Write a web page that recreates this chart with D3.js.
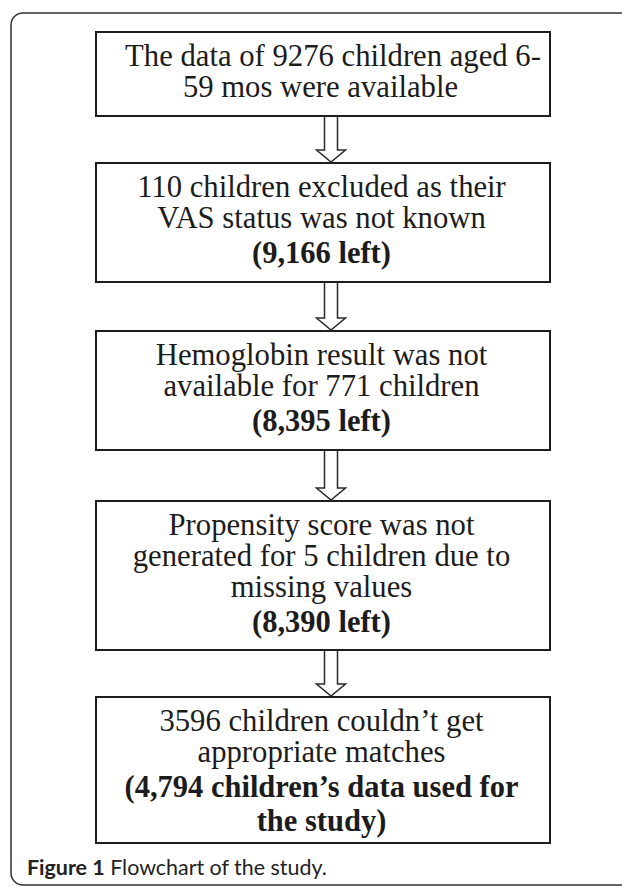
<!DOCTYPE html>
<html>
<head>
<meta charset="utf-8">
<script src="https://cdn.jsdelivr.net/npm/d3@7"></script>
<style>
  html, body { margin: 0; padding: 0; background: #fff; overflow: hidden; }
  svg { display: block; }
</style>
</head>
<body>
<div id="chart"></div>
<script>
// ---- data ----
const stepNames = ["available", "vasKnown", "hbAvailable", "scoreGenerated", "matched"];
const stepLines = [
  ["The data of 9276 children aged 6-", "59 mos were available"],
  ["110 children excluded as their", "VAS status was not known", "(9,166 left)"],
  ["Hemoglobin result was not", "available for 771 children", "(8,395 left)"],
  ["Propensity score was not", "generated for 5 children due to", "missing values", "(8,390 left)"],
  ["3596 children couldn\u2019t get", "appropriate matches", "(4,794 children\u2019s data used for", "the study)"]
];
const stepBoldFrom = [99, 2, 2, 3, 2];   // index of first bold line in each box
const captionBold = "Figure 1";
const captionText = " Flowchart of the study.";

// ---- layout ----
const W = 622, H = 887;
const boxTop = [32, 163, 331, 501, 697];
const boxBottom = [116, 282, 450, 650, 843];
const boxLeft = 96, boxRight = 550;
const textCx = 321.5;
const arrowCx = 331;

const svg = d3.select("#chart").append("svg")
  .attr("width", W).attr("height", H)
  .attr("viewBox", `0 0 ${W} ${H}`);

// outer frame (open to the right)
const fx = 11, fy = 13, fb = 885, r = 12;
const fp = d3.path();
fp.moveTo(W + 5, fy);
fp.lineTo(fx + r, fy);
fp.arcTo(fx, fy, fx, fy + r, r);
fp.lineTo(fx, fb - r);
fp.arcTo(fx, fb, fx + r, fb, r);
fp.lineTo(W + 5, fb);
svg.append("path").attr("d", fp.toString())
  .attr("fill", "none").attr("stroke", "#333").attr("stroke-width", 1.5);

const yScale = d3.scaleLinear().domain([0, H]).range([0, H]);

const g = svg.append("g");

const boxes = g.selectAll("g.step").data(stepNames).join("g").attr("class", "step");

boxes.append("rect")
  .attr("x", boxLeft)
  .attr("y", (d, i) => yScale(boxTop[i]))
  .attr("width", boxRight - boxLeft)
  .attr("height", (d, i) => yScale(boxBottom[i]) - yScale(boxTop[i]))
  .attr("fill", "#fff").attr("stroke", "#1e1e1e").attr("stroke-width", 2);

boxes.each(function (d, i) {
  const lines = stepLines[i];
  let y = boxTop[i] + 34;
  const sel = d3.select(this);
  lines.forEach((ln, j) => {
    const bold = j >= stepBoldFrom[i];
    if (j > 0) y += (bold ? 34.5 : 31);
    let cx = textCx;
    if (i === 0 && j === 0) cx = 333;
    if (i === 0 && j === 1) cx = 320.5;
    sel.append("text")
      .attr("x", cx).attr("y", yScale(y))
      .attr("text-anchor", "middle")
      .attr("font-family", "'Liberation Serif', 'Times New Roman', serif")
      .attr("font-size", bold ? 30.5 : 30.7)
      .attr("font-weight", bold ? "bold" : "normal")
      .attr("fill", "#1c1c1c")
      .text(ln);
  });
});

// hollow arrows between boxes
const arrowData = d3.range(stepNames.length - 1);
const shaftHalf = 6.5, headHalf = 14.5, headH = 12;
g.selectAll("path.arrow").data(arrowData).join("path")
  .attr("class", "arrow")
  .attr("d", i => {
    const y0 = yScale(boxBottom[i]) + 1, y1 = yScale(boxTop[i + 1]) - 1;
    const yh = y1 - headH;
    const p = d3.path();
    p.moveTo(arrowCx - shaftHalf, y0);
    p.lineTo(arrowCx - shaftHalf, yh);
    p.lineTo(arrowCx - headHalf, yh);
    p.lineTo(arrowCx, y1);
    p.lineTo(arrowCx + headHalf, yh);
    p.lineTo(arrowCx + shaftHalf, yh);
    p.lineTo(arrowCx + shaftHalf, y0);
    return p.toString();
  })
  .attr("fill", "#fff").attr("stroke", "#2a2a2a").attr("stroke-width", 1.5)
  .attr("stroke-linejoin", "miter");

// caption
const cap = svg.append("text")
  .attr("x", 27).attr("y", 875)
  .attr("font-family", "Lato, 'Open Sans', sans-serif")
  .attr("font-size", 19)
  .attr("fill", "#222");
cap.append("tspan").attr("font-weight", "bold").text(captionBold);
cap.append("tspan").text(captionText);
// fit caption to the reference width (~300px)
const capW = cap.node().getComputedTextLength();
if (capW > 0) cap.attr("font-size", 19 * 300 / capW);
</script>
</body>
</html>
